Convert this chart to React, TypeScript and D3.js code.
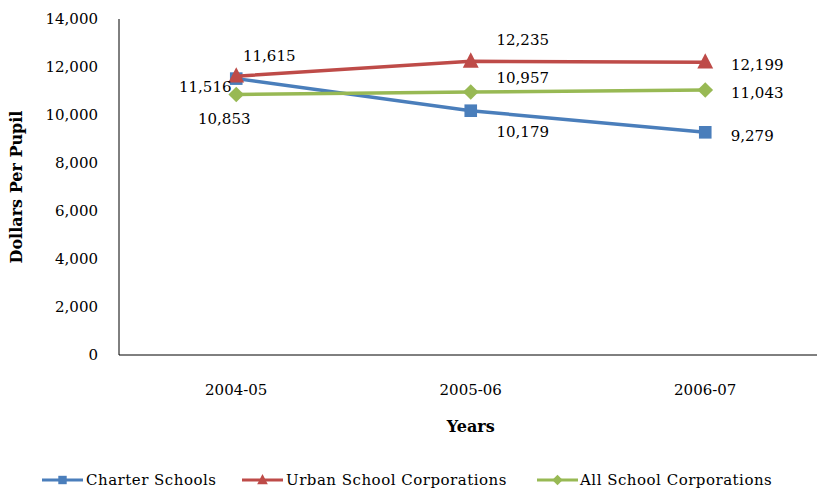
import React from "react";
import * as d3 from "d3";

const categories = ["2004-05", "2005-06", "2006-07"];
const charter = [11516, 10179, 9279];
const urban = [11615, 12235, 12199];
const allSchools = [10853, 10957, 11043];
const yTicks = [0, 2000, 4000, 6000, 8000, 10000, 12000, 14000];

const W = 817;
const H = 491;
const left = 119;
const top = 19;
const bottom = 355;
const bandW = 234.5;

const series = [
  { name: "Charter Schools", values: charter, color: "#4A7EBB", marker: "square",
    offsets: [[-31, 8], [52, 21], [47, 3]] },
  { name: "Urban School Corporations", values: urban, color: "#BE4B48", marker: "triangle",
    offsets: [[33, -20], [52, -22], [52, 3]] },
  { name: "All School Corporations", values: allSchools, color: "#98B954", marker: "diamond",
    offsets: [[-12, 24], [52, -14], [52, 3]] },
];

function Marker({ type, x, y, color, s }: { type: string; x: number; y: number; color: string; s: number }) {
  if (type === "square") {
    return <rect x={x - s * 0.42} y={y - s * 0.42} width={s * 0.84} height={s * 0.84} fill={color} />;
  }
  if (type === "triangle") {
    return <path d={`M${x},${y - s * 0.6} L${x + s * 0.53},${y + s * 0.42} L${x - s * 0.53},${y + s * 0.42} Z`} fill={color} />;
  }
  const r = s * 0.52;
  return <path d={`M${x},${y - r} L${x + r},${y} L${x},${y + r} L${x - r},${y} Z`} fill={color} />;
}

export default function App() {
  const x = d3.scaleBand<string>().domain(categories).range([left, left + bandW * 3]);
  const y = d3.scaleLinear().domain([0, 14000]).range([bottom, top]);
  const fmt = d3.format(",");
  const cx = (c: string) => (x(c) as number) + x.bandwidth() / 2;
  const line = d3.line<number>().x((_, i) => cx(categories[i])).y((v) => y(v));
  const font = "'DejaVu Serif', serif";

  const legendItems = [
    { x: 42, tx: 86 },
    { x: 242, tx: 286 },
    { x: 537, tx: 580 },
  ];

  return (
    <svg width={W} height={H} style={{ position: "absolute", left: 0, top: 0 }} fontFamily={font}>
      <rect width={W} height={H} fill="#fff" />
      <line x1={left} x2={left} y1={top} y2={bottom} stroke="#000" strokeWidth={1} />
      <line x1={left} x2={W} y1={bottom} y2={bottom} stroke="#000" strokeWidth={1} />
      {yTicks.map((t) => (
        <text key={t} x={98} y={y(t)} dy="0.35em" textAnchor="end" fontSize={15} fill="#000">
          {fmt(t)}
        </text>
      ))}
      {categories.map((c) => (
        <text key={c} x={cx(c)} y={395} textAnchor="middle" fontSize={15} fill="#000">
          {c}
        </text>
      ))}
      <text x={cx(categories[1])} y={432} textAnchor="middle" fontSize={16} fontWeight="bold" fill="#000">
        Years
      </text>
      <text transform={`translate(22,${(top + bottom) / 2}) rotate(-90)`} textAnchor="middle" fontSize={16} fontWeight="bold" fill="#000">
        Dollars Per Pupil
      </text>
      {series.map((s) => (
        <g key={s.name}>
          <path d={line(s.values) as string} fill="none" stroke={s.color} strokeWidth={3.5} />
          {s.values.map((v, i) => (
            <Marker key={i} type={s.marker} x={cx(categories[i])} y={y(v)} color={s.color} s={15} />
          ))}
        </g>
      ))}
      {series.map((s) =>
        s.values.map((v, i) => (
          <text key={s.name + i} x={cx(categories[i]) + s.offsets[i][0]} y={y(v) + s.offsets[i][1]} dy="0.35em"
            textAnchor="middle" fontSize={15} fill="#000">
            {fmt(v)}
          </text>
        ))
      )}
      {series.map((s, i) => (
        <g key={s.name}>
          <line x1={legendItems[i].x} x2={legendItems[i].x + 41} y1={480} y2={480} stroke={s.color} strokeWidth={3} />
          <Marker type={s.marker} x={legendItems[i].x + 20.5} y={480} color={s.color} s={10} />
          <text x={legendItems[i].tx} y={480} dy="0.35em" fontSize={15} letterSpacing={0.5} fill="#000">
            {s.name}
          </text>
        </g>
      ))}
    </svg>
  );
}
